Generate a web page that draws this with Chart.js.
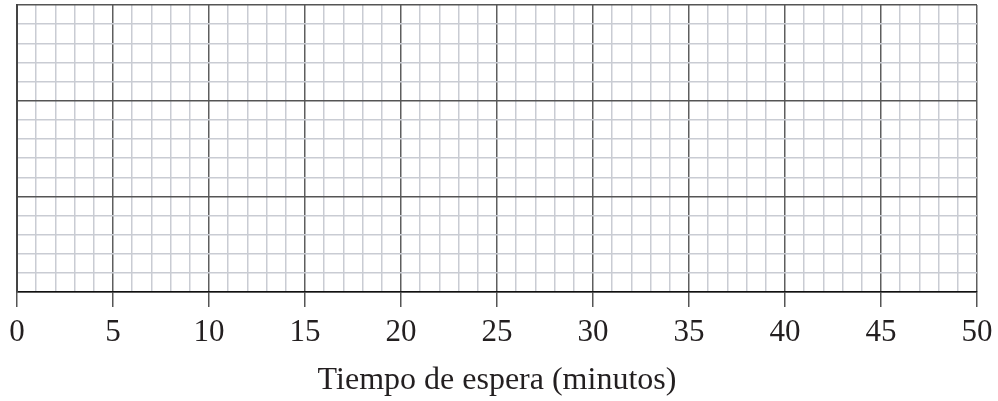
<!DOCTYPE html>
<html>
<head>
<meta charset="utf-8">
<script src="https://cdn.jsdelivr.net/npm/chart.js@4/dist/chart.umd.min.js"></script>
<style>
  html, body { margin: 0; padding: 0; background: #fff; }
  #wrap { width: 998px; height: 401px; }
</style>
</head>
<body>
<div id="wrap"><canvas id="gridChart"></canvas></div>
<script>
// blank graph paper, x = waiting time in minutes
const xRange = [0, 50];
const yRange = [0, 15];
const xTickLabels = [0, 5, 10, 15, 20, 25, 30, 35, 40, 45, 50];
const majorEvery = 5;
const xTitle = 'Tiempo de espera (minutos)';

const minorColor = '#c9ccd3';
const majorColor = '#5e5e5e';
const textColor = '#231f20';

const isMajor = (v) => v % majorEvery === 0;

const ctx = document.getElementById('gridChart').getContext('2d');
new Chart(ctx, {
    type: 'scatter',
    data: {
        datasets: [{ data: [] }],
    },
    options: {
        responsive: true,
        maintainAspectRatio: false,
        animation: false,
        layout: {
            padding: { left: 17, right: 21, top: 5, bottom: 1 },
        },
        plugins: {
            legend: { display: false },
            tooltip: { enabled: false },
        },
        scales: {
            x: {
                type: 'linear',
                min: xRange[0],
                max: xRange[1],
                ticks: {
                    stepSize: 1,
                    autoSkip: false,
                    maxRotation: 0,
                    padding: 3,
                    color: textColor,
                    font: { family: 'Liberation Serif', size: 31, lineHeight: 1.5 },
                    callback: (value) => (xTickLabels.includes(value) ? String(value) : ''),
                },
                grid: {
                    color: (c) => (isMajor(c.tick.value) ? majorColor : minorColor),
                    lineWidth: 1.5,
                    tickColor: (c) => (isMajor(c.tick.value) ? '#555' : 'rgba(0,0,0,0)'),
                    tickLength: 15,
                    tickWidth: 1.5,
                },
                border: { display: true, color: '#111', width: 1.5 },
                title: {
                    display: true,
                    text: xTitle,
                    color: textColor,
                    font: { family: 'Liberation Serif', size: 32 },
                    padding: { top: 2, bottom: 0 },
                },
            },
            y: {
                type: 'linear',
                min: yRange[0],
                max: yRange[1],
                ticks: { stepSize: 1, display: false },
                grid: {
                    color: (c) => (isMajor(c.tick.value) ? '#555' : minorColor),
                    lineWidth: 1.5,
                    drawTicks: false,
                },
                border: { display: true, color: '#444', width: 2 },
            },
        },
    },
});
</script>
</body>
</html>
